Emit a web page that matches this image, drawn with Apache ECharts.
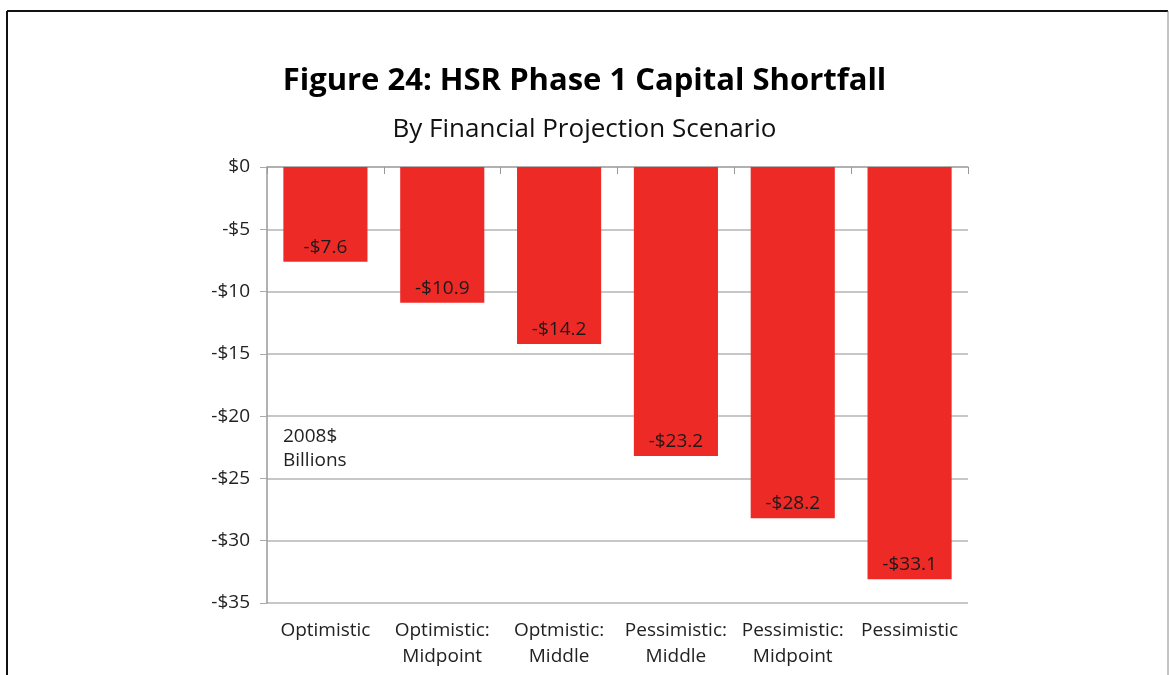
<!DOCTYPE html>
<html>
<head>
<meta charset="utf-8">
<script src="https://cdn.jsdelivr.net/npm/echarts@6/dist/echarts.min.js"></script>
<style>html,body{margin:0;padding:0;background:#fff}#c{width:1169px;height:675px}</style>
</head>
<body>
<div id="c"></div>
<script>
const categories = ['Optimistic', 'Optimistic:\nMidpoint', 'Optmistic:\nMiddle', 'Pessimistic:\nMiddle', 'Pessimistic:\nMidpoint', 'Pessimistic'];
const shortfall = [-7.6, -10.9, -14.2, -23.2, -28.2, -33.1];
const yTicks = [0, -5, -10, -15, -20, -25, -30, -35];
const titleText = 'Figure 24: HSR Phase 1 Capital Shortfall';
const subtitleText = 'By Financial Projection Scenario';
const unitNote = '2008$\nBillions';

const FONT = '"Open Sans", Lato, sans-serif';
const chart = echarts.init(document.getElementById('c'), null, {renderer: 'canvas'});
chart.setOption({
  animation: false,
  backgroundColor: '#fff',
  title: [{
    text: titleText,
    left: 'center', top: 61,
    textStyle: {fontFamily: FONT, fontWeight: 'bold', fontSize: 31, color: '#000'}
  }, {
    text: subtitleText,
    left: 'center', top: 112,
    textStyle: {fontFamily: FONT, fontWeight: 'normal', fontSize: 26, color: '#111'}
  }],
  grid: {left: 267, right: 201, top: 167, bottom: 72, containLabel: false},
  xAxis: [{
    type: 'category', data: categories, position: 'bottom',
    axisLine: {show: false, onZero: false},
    axisTick: {show: false},
    axisLabel: {fontFamily: FONT, fontSize: 19, color: '#222', lineHeight: 26, margin: 15, interval: 0}
  }, {
    type: 'category', data: categories, position: 'top',
    axisLine: {show: true, onZero: false, lineStyle: {color: '#aaa', width: 1.5}},
    axisTick: {show: true, inside: true, length: 7, lineStyle: {color: '#999'}},
    axisLabel: {show: false}
  }],
  yAxis: {
    type: 'value', min: -35, max: 0, interval: 5,
    axisLine: {show: true, lineStyle: {color: '#999', width: 1.5}},
    axisTick: {show: true, length: 7, lineStyle: {color: '#aaa'}},
    splitLine: {lineStyle: {color: '#b5b5b5', width: 1.5}},
    axisLabel: {
      fontFamily: FONT, fontSize: 19, color: '#222', margin: 17,
      formatter: v => (v < 0 ? '-$' + Math.abs(v) : '$' + v)
    }
  },
  series: [{
    type: 'bar', data: shortfall, xAxisIndex: 0,
    barCategoryGap: '28%',
    itemStyle: {color: '#EE2A27'},
    label: {
      show: true, position: 'insideBottom', distance: 5,
      fontFamily: FONT, fontSize: 19, color: '#1a1a1a',
      formatter: p => '-$' + Math.abs(p.value).toFixed(1)
    }
  }],
  graphic: [
    {type: 'text', left: 283, top: 425, style: {text: unitNote, fontFamily: FONT, fontSize: 19, lineHeight: 24, fill: '#222'}},
    {type: 'line', shape: {x1: 7, y1: 11, x2: 1168, y2: 11}, style: {stroke: '#111', lineWidth: 2}},
    {type: 'line', shape: {x1: 7, y1: 11, x2: 7, y2: 675}, style: {stroke: '#111', lineWidth: 2}},
    {type: 'line', shape: {x1: 1168, y1: 11, x2: 1168, y2: 675}, style: {stroke: '#888', lineWidth: 1}}
  ]
});
</script>
</body>
</html>
